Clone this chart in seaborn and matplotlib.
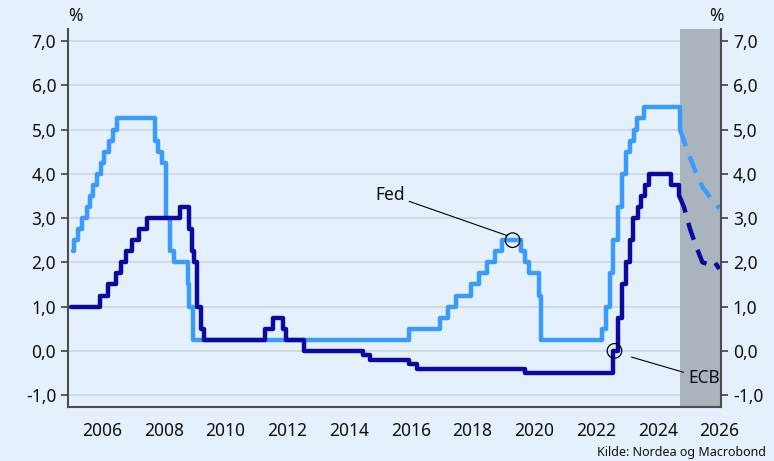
import numpy as np
import pandas as pd
import matplotlib.pyplot as plt
import seaborn as sns

# Fed funds rate (upper bound), change points
fed_year = [2005.05, 2005.09, 2005.22, 2005.34, 2005.50, 2005.61, 2005.72, 2005.84, 2005.96,
            2006.08, 2006.24, 2006.36, 2006.49, 2007.71, 2007.83, 2007.95, 2008.06, 2008.08,
            2008.21, 2008.33, 2008.77, 2008.83, 2008.96, 2015.96, 2016.96, 2017.21, 2017.46,
            2017.96, 2018.21, 2018.46, 2018.73, 2018.97, 2019.58, 2019.71, 2019.83, 2020.17,
            2020.21, 2022.21, 2022.34, 2022.46, 2022.56, 2022.72, 2022.84, 2022.96, 2023.09,
            2023.22, 2023.34, 2023.57, 2024.72]
fed_rate = [2.25, 2.5, 2.75, 3.0, 3.25, 3.5, 3.75, 4.0, 4.25,
            4.5, 4.75, 5.0, 5.25, 4.75, 4.5, 4.25, 3.5, 3.0,
            2.25, 2.0, 1.5, 1.0, 0.25, 0.5, 0.75, 1.0, 1.25,
            1.5, 1.75, 2.0, 2.25, 2.5, 2.25, 2.0, 1.75, 1.25,
            0.25, 0.5, 1.0, 1.75, 2.5, 3.25, 4.0, 4.5, 4.75,
            5.0, 5.25, 5.5, 5.0]

# ECB deposit rate, change points
ecb_year = [2005.0, 2005.93, 2006.18, 2006.45, 2006.60, 2006.78, 2006.96, 2007.20, 2007.45,
            2008.52, 2008.83, 2008.90, 2008.97, 2009.07, 2009.20, 2009.29, 2011.27, 2011.53,
            2011.85, 2011.96, 2012.53, 2014.44, 2014.68, 2015.94, 2016.21, 2019.71, 2022.56,
            2022.70, 2022.84, 2022.97, 2023.10, 2023.21, 2023.35, 2023.46, 2023.59, 2023.71,
            2024.44, 2024.70]
ecb_rate = [1.0, 1.25, 1.5, 1.75, 2.0, 2.25, 2.5, 2.75, 3.0,
            3.25, 2.75, 2.25, 2.0, 1.0, 0.5, 0.25, 0.5, 0.75,
            0.5, 0.25, 0.0, -0.1, -0.2, -0.3, -0.4, -0.5, 0.0,
            0.75, 1.5, 2.0, 2.5, 3.0, 3.25, 3.5, 3.75, 4.0,
            3.75, 3.5]

# forecasts (dashed)
fed_fc_year = [2024.72, 2024.85, 2024.97, 2025.20, 2025.45, 2025.72, 2026.0]
fed_fc_rate = [5.0, 4.75, 4.5, 4.1, 3.7, 3.45, 3.22]
ecb_fc_year = [2024.70, 2024.85, 2025.05, 2025.25, 2025.45, 2025.75, 2025.85, 2026.0]
ecb_fc_rate = [3.5, 3.25, 2.75, 2.35, 2.0, 1.93, 2.0, 1.85]

forecast_start = 2024.72
fed_mark = (2019.3, 2.5)
ecb_mark = (2022.6, 0.0)

bg = "#E4F1FD"
fed_col = "#3A9BFF"
ecb_col = "#0A0A9E"

sns.set_theme(style="white")
plt.rcParams["font.family"] = ["Noto Sans", "DejaVu Sans"]

fig = plt.figure(figsize=(7.74, 4.61), dpi=100, facecolor=bg)
ax = fig.add_axes([0.0879, 0.117, 0.8436, 0.82])
ax.set_facecolor(bg)

for y in range(-1, 8):
    ax.axhline(y, color="#CDD8E3", lw=1.3, zorder=0)
ax.axvspan(forecast_start, 2026.05, color="#AAB4BF", lw=0, zorder=1)

fed = pd.DataFrame({"year": fed_year, "rate": fed_rate})
ecb = pd.DataFrame({"year": ecb_year, "rate": ecb_rate})
sns.lineplot(data=fed, x="year", y="rate", drawstyle="steps-post", color=fed_col,
             lw=3.2, ax=ax, zorder=3)
sns.lineplot(data=ecb, x="year", y="rate", drawstyle="steps-post", color=ecb_col,
             lw=3.2, ax=ax, zorder=4)
sns.lineplot(x=fed_fc_year, y=fed_fc_rate, color=fed_col, lw=3.2, ax=ax, zorder=3,
             linestyle=(0, (4, 2.4)))
sns.lineplot(x=ecb_fc_year, y=ecb_fc_rate, color=ecb_col, lw=3.2, ax=ax, zorder=4,
             linestyle=(0, (4, 2.4)))

ax.scatter(*fed_mark, s=110, facecolors="none", edgecolors="black", lw=0.9, zorder=6)
ax.scatter(*ecb_mark, s=110, facecolors="none", edgecolors="black", lw=0.9, zorder=6)
ax.annotate("Fed", xy=(2019.14, 2.6), xytext=(2015.32, 3.53), fontsize=12.5,
            ha="center", va="center", color="#111",
            arrowprops=dict(arrowstyle="-", lw=0.8, color="black", shrinkA=1, shrinkB=0))
ax.annotate("ECB", xy=(2023.15, -0.14), xytext=(2025.5, -0.62), fontsize=12.5,
            ha="center", va="center", color="#111", zorder=7,
            arrowprops=dict(arrowstyle="-", lw=0.8, color="black", shrinkA=1, shrinkB=0))

ax.set_xlim(2004.9, 2026.05)
ax.set_ylim(-1.27, 7.27)
ax.set_xticks(range(2006, 2027, 2))
ax.set_yticks(range(-1, 8))
ax.set_yticklabels([f"{v:.1f}".replace(".", ",") for v in range(-1, 8)])
ax.set_xlabel("")
ax.set_ylabel("")

ax2 = ax.twinx()
ax2.set_ylim(ax.get_ylim())
ax2.set_yticks(range(-1, 8))
ax2.set_yticklabels([f"{v:.1f}".replace(".", ",") for v in range(-1, 8)])

spine_col = "#4D4D4D"
for a in (ax, ax2):
    for s in a.spines.values():
        s.set_visible(False)
    a.tick_params(colors=spine_col, labelcolor="#111", labelsize=12.5, length=5, width=1.3)
ax.spines["left"].set_visible(True)
ax.spines["bottom"].set_visible(True)
ax2.spines["right"].set_visible(True)
for s in (ax.spines["left"], ax.spines["bottom"], ax2.spines["right"]):
    s.set_color(spine_col)
    s.set_linewidth(1.5)
ax.tick_params(axis="x", pad=6)

fig.text(0.097, 0.965, "%", fontsize=12.5, ha="center", va="center", color="#111")
fig.text(0.925, 0.965, "%", fontsize=12.5, ha="center", va="center", color="#111")
fig.text(0.99, 0.018, "Kilde: Nordea og Macrobond", fontsize=9, ha="right",
         va="center", color="#111")

fig.savefig("out.png", dpi=100, facecolor=bg)
